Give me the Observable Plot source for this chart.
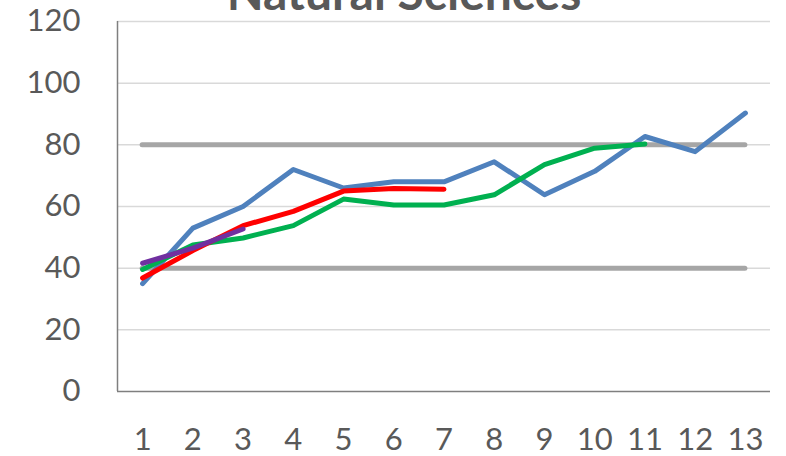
<!DOCTYPE html>
<html>
<head>
<meta charset="utf-8">
<script src="https://cdn.jsdelivr.net/npm/d3@7"></script>
<script src="https://cdn.jsdelivr.net/npm/@observablehq/plot@0.6"></script>
<style>
  html, body { margin: 0; padding: 0; background: #fff; }
  svg { display: block; }
</style>
</head>
<body>
<div id="chart"></div>
<script>
// Natural Sciences scores by period
const periods = [1, 2, 3, 4, 5, 6, 7, 8, 9, 10, 11, 12, 13];
const blueSeries = [35, 53, 60, 72, 66, 68, 68, 74.5, 63.8, 71.4, 82.7, 77.8, 90.3];
const greenSeries = [39.6, 47.5, 49.8, 53.8, 62.4, 60.5, 60.5, 63.8, 73.6, 78.9, 80.3];
const redSeries = [36.8, 45.7, 53.8, 58.4, 65, 65.8, 65.6];
const purpleSeries = [41.6, 46.5, 52.7];
const seriesColors = ["#4F81BD", "#00B050", "#FF0000", "#7030A0"];
const limitLines = [40, 80];
const yTicks = [0, 20, 40, 60, 80, 100, 120];

const allSeries = [blueSeries, greenSeries, redSeries, purpleSeries];
const rows = allSeries.flatMap((vals, s) =>
  vals.map((v, i) => ({series: s, period: periods[i], value: v}))
);

const font = "Lato, 'Open Sans', sans-serif";

const chart = Plot.plot({
  width: 786,
  height: 456,
  marginLeft: 117,
  marginRight: 16,
  marginTop: 21,
  marginBottom: 65,
  style: {fontFamily: font, background: "#fff"},
  x: {domain: [0.5, 13.5], label: null},
  y: {domain: [0, 120], label: null},
  marks: [
    Plot.gridY(yTicks.filter(d => d > 0), {stroke: "#d9d9d9", strokeOpacity: 1, strokeWidth: 1.5}),
    Plot.ruleX([0.5], {stroke: "#7f7f7f", strokeWidth: 1.5}),
    Plot.ruleY([0], {stroke: "#7f7f7f", strokeWidth: 1.5}),
    Plot.ruleY(limitLines, {x1: periods[0], x2: periods[periods.length - 1], stroke: "#a6a6a6", strokeWidth: 5, strokeLinecap: "round"}),
    Plot.lineY(rows, {
      x: "period", y: "value", z: "series",
      stroke: d => seriesColors[d.series],
      strokeWidth: 5, strokeLinecap: "round", strokeLinejoin: "round"
    }),
    Plot.axisY({ticks: yTicks, tickSize: 0, tickPadding: 37, fontSize: 31, color: "#595959", label: null}),
    Plot.axisX({ticks: periods, tickSize: 0, tickPadding: 36, fontSize: 31, color: "#595959", label: null, tickFormat: d => String(d)}),
    Plot.text(["Natural Sciences"], {
      frameAnchor: "top", dx: -40, dy: -12, lineAnchor: "bottom",
      fontSize: 48, fontWeight: "bold", fill: "#595959"
    })
  ]
});

document.getElementById("chart").appendChild(chart);
</script>
</body>
</html>
